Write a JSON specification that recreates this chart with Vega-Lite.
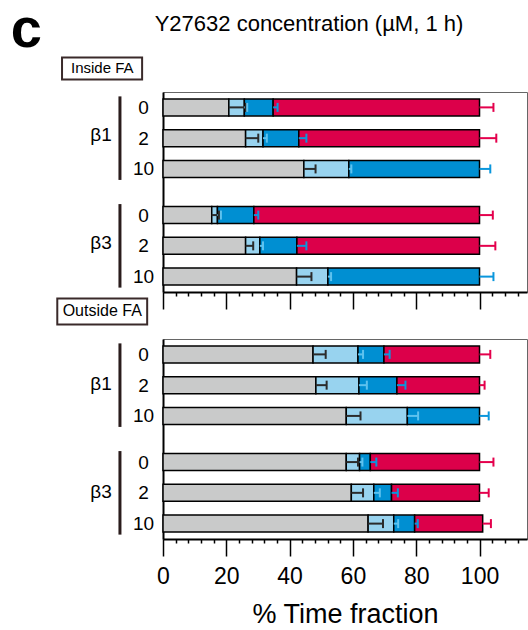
{
  "$schema": "https://vega.github.io/schema/vega-lite/v6.json",
  "padding": {"left": 10, "top": 1, "right": 0, "bottom": 5},
  "config": {
    "font": "Liberation Sans",
    "view": {"stroke": "#666666", "strokeWidth": 1},
    "axis": {"labelColor": "black", "titleColor": "black", "labelFont": "Liberation Sans", "titleFont": "Liberation Sans", "labelOverlap": false, "labelFlush": false}
  },
  "title": {"text": "c", "anchor": "start", "frame": "bounds", "fontSize": 56, "fontWeight": "bold", "dx": -45, "offset": -46, "color": "black"},
  "datasets": {
    "segs": [
      {"loc": "Inside FA", "key": "β1|0", "state": "A", "start": 0, "end": 20.8, "err": 26.2},
      {"loc": "Inside FA", "key": "β1|0", "state": "B", "start": 20.8, "end": 25.7, "err": 26.6},
      {"loc": "Inside FA", "key": "β1|0", "state": "C", "start": 25.7, "end": 34.8, "err": 36.2},
      {"loc": "Inside FA", "key": "β1|0", "state": "D", "start": 34.8, "end": 100, "err": 104.4},
      {"loc": "Inside FA", "key": "β1|2", "state": "A", "start": 0, "end": 26.1, "err": 30.1},
      {"loc": "Inside FA", "key": "β1|2", "state": "B", "start": 26.1, "end": 31.6, "err": 32.8},
      {"loc": "Inside FA", "key": "β1|2", "state": "C", "start": 31.6, "end": 42.9, "err": 45.3},
      {"loc": "Inside FA", "key": "β1|2", "state": "D", "start": 42.9, "end": 100, "err": 105.3},
      {"loc": "Inside FA", "key": "β1|10", "state": "A", "start": 0, "end": 44.5, "err": 48.2},
      {"loc": "Inside FA", "key": "β1|10", "state": "B", "start": 44.5, "end": 58.7, "err": 59.5},
      {"loc": "Inside FA", "key": "β1|10", "state": "C", "start": 58.7, "end": 100, "err": 103.4},
      {"loc": "Inside FA", "key": "β3|0", "state": "A", "start": 0, "end": 15.4, "err": 17.7},
      {"loc": "Inside FA", "key": "β3|0", "state": "B", "start": 15.4, "end": 17.2, "err": 18.3},
      {"loc": "Inside FA", "key": "β3|0", "state": "C", "start": 17.2, "end": 28.7, "err": 30.1},
      {"loc": "Inside FA", "key": "β3|0", "state": "D", "start": 28.7, "end": 100, "err": 104.2},
      {"loc": "Inside FA", "key": "β3|2", "state": "A", "start": 0, "end": 26.1, "err": 28.5},
      {"loc": "Inside FA", "key": "β3|2", "state": "B", "start": 26.1, "end": 30.6, "err": 31.6},
      {"loc": "Inside FA", "key": "β3|2", "state": "C", "start": 30.6, "end": 42.3, "err": 45.3},
      {"loc": "Inside FA", "key": "β3|2", "state": "D", "start": 42.3, "end": 100, "err": 105.0},
      {"loc": "Inside FA", "key": "β3|10", "state": "A", "start": 0, "end": 42.2, "err": 46.9},
      {"loc": "Inside FA", "key": "β3|10", "state": "B", "start": 42.2, "end": 52.1, "err": 53.1},
      {"loc": "Inside FA", "key": "β3|10", "state": "C", "start": 52.1, "end": 100, "err": 104.4},
      {"loc": "Outside FA", "key": "β1|0", "state": "A", "start": 0, "end": 47.4, "err": 51.4},
      {"loc": "Outside FA", "key": "β1|0", "state": "B", "start": 47.4, "end": 61.6, "err": 63.2},
      {"loc": "Outside FA", "key": "β1|0", "state": "C", "start": 61.6, "end": 69.8, "err": 71.6},
      {"loc": "Outside FA", "key": "β1|0", "state": "D", "start": 69.8, "end": 100, "err": 103.4},
      {"loc": "Outside FA", "key": "β1|2", "state": "A", "start": 0, "end": 48.3, "err": 51.7},
      {"loc": "Outside FA", "key": "β1|2", "state": "B", "start": 48.3, "end": 61.9, "err": 64.4},
      {"loc": "Outside FA", "key": "β1|2", "state": "C", "start": 61.9, "end": 73.9, "err": 76.6},
      {"loc": "Outside FA", "key": "β1|2", "state": "D", "start": 73.9, "end": 100, "err": 101.6},
      {"loc": "Outside FA", "key": "β1|10", "state": "A", "start": 0, "end": 57.9, "err": 62.4},
      {"loc": "Outside FA", "key": "β1|10", "state": "B", "start": 57.9, "end": 77.2, "err": 80.6},
      {"loc": "Outside FA", "key": "β1|10", "state": "C", "start": 77.2, "end": 100, "err": 102.9},
      {"loc": "Outside FA", "key": "β3|0", "state": "A", "start": 0, "end": 57.9, "err": 61.6},
      {"loc": "Outside FA", "key": "β3|0", "state": "B", "start": 57.9, "end": 62.1, "err": 63.0},
      {"loc": "Outside FA", "key": "β3|0", "state": "C", "start": 62.1, "end": 65.5, "err": 67.4},
      {"loc": "Outside FA", "key": "β3|0", "state": "D", "start": 65.5, "end": 100, "err": 104.4},
      {"loc": "Outside FA", "key": "β3|2", "state": "A", "start": 0, "end": 59.5, "err": 63.2},
      {"loc": "Outside FA", "key": "β3|2", "state": "B", "start": 59.5, "end": 66.6, "err": 68.5},
      {"loc": "Outside FA", "key": "β3|2", "state": "C", "start": 66.6, "end": 72.2, "err": 74.2},
      {"loc": "Outside FA", "key": "β3|2", "state": "D", "start": 72.2, "end": 100, "err": 102.9},
      {"loc": "Outside FA", "key": "β3|10", "state": "A", "start": 0, "end": 64.8, "err": 69.5},
      {"loc": "Outside FA", "key": "β3|10", "state": "B", "start": 64.8, "end": 72.9, "err": 74.3},
      {"loc": "Outside FA", "key": "β3|10", "state": "C", "start": 72.9, "end": 79.5, "err": 80.5},
      {"loc": "Outside FA", "key": "β3|10", "state": "D", "start": 79.5, "end": 101, "err": 103.6}
    ],
    "groups": [
      {"iso": "β1", "first": "β1|0", "mid": "β1|2", "last": "β1|10"},
      {"iso": "β3", "first": "β3|0", "mid": "β3|2", "last": "β3|10"}
    ]
  },
  "bounds": "flush",
  "spacing": 47,
  "vconcat": [
    {
      "width": 364,
      "height": 200,
      "title": {"text": "Y27632 concentration (µM, 1 h)", "anchor": "middle", "frame": "group", "dx": -36, "fontSize": 22, "fontWeight": "normal", "color": "black", "offset": 20},
      "layer": [
        {
          "data": {"name": "segs"},
          "transform": [{"filter": "datum.loc === 'Inside FA'"}],
          "mark": {"type": "bar", "size": 17, "stroke": "black", "strokeWidth": 1.5},
          "encoding": {
            "x": {"field": "start", "type": "quantitative", "scale": {"domain": [0, 115], "nice": false, "zero": false},
              "axis": {"values": [0,4,8,12,16,20,24,28,32,36,40,44,48,52,56,60,64,68,72,76,80,84,88,92,96,100,104,108,112], "tickCount": 40, "labels": false, "title": null, "grid": false, "domainColor": "black", "domainWidth": 2, "tickColor": "black", "tickWidth": 1.5,
                "tickSize": {"condition": {"test": "datum.value % 20 === 0", "value": 17}, "value": 4}}},
            "x2": {"field": "end"},
            "y": {"field": "key", "type": "ordinal",
              "scale": {"type": "point", "padding": 1.5, "domain": ["β1|0","g1","β1|2","g2","β1|10","g3","g4","β3|0","g5","β3|2","g6","β3|10"]},
              "axis": {"title": null, "ticks": false, "domainColor": "black", "domainWidth": 2, "labelFontSize": 19, "labelAlign": "center", "labelPadding": 20, "labelExpr": "indexof(datum.value, '|') >= 0 ? split(datum.value, '|')[1] : ''"}},
            "fill": {"field": "state", "type": "nominal", "legend": null,
              "scale": {"domain": ["A","B","C","D"], "range": ["#c9caca", "#98d3ef", "#008fd2", "#dc004a"]}}
          }
        },
        {
          "data": {"name": "segs"},
          "transform": [{"filter": "datum.loc === 'Inside FA'"}],
          "mark": {"type": "rule", "strokeWidth": 2},
          "encoding": {
            "x": {"field": "end", "type": "quantitative"},
            "x2": {"field": "err"},
            "y": {"field": "key", "type": "ordinal"},
            "stroke": {"field": "state", "type": "nominal", "legend": null,
              "scale": {"domain": ["A","B","C","D"], "range": ["#2b2b2b", "#5ec2ee", "#0a96dc", "#e4004c"]}}
          }
        },
        {
          "data": {"name": "segs"},
          "transform": [{"filter": "datum.loc === 'Inside FA'"}],
          "mark": {"type": "rule", "strokeWidth": 2, "yOffset": -4.5, "y2Offset": 4.5},
          "encoding": {
            "x": {"field": "err", "type": "quantitative"},
            "y": {"field": "key", "type": "ordinal"},
            "y2": {"field": "key"},
            "stroke": {"field": "state", "type": "nominal", "legend": null}
          }
        },
        {
          "data": {"name": "groups"},
          "mark": {"type": "rule", "strokeWidth": 3, "color": "#2a1c1c", "yOffset": -11, "y2Offset": 11},
          "encoding": {
            "x": {"datum": -13.6, "type": "quantitative"},
            "y": {"field": "first", "type": "ordinal"},
            "y2": {"field": "last"}
          }
        },
        {
          "data": {"name": "groups"},
          "mark": {"type": "text", "fontSize": 19, "align": "right", "baseline": "middle", "yOffset": -3, "color": "black"},
          "encoding": {
            "x": {"datum": -16.2, "type": "quantitative"},
            "y": {"field": "mid", "type": "ordinal"},
            "text": {"field": "iso"}
          }
        },
        {
          "data": {"values": [{"label": "Inside FA"}]},
          "mark": {"type": "rect", "fill": "white", "stroke": "#3a2a2a", "strokeWidth": 2, "yOffset": -50, "y2Offset": -28},
          "encoding": {
            "x": {"datum": -31.9, "type": "quantitative"},
            "x2": {"datum": -6.6},
            "y": {"datum": "β1|0", "type": "ordinal"},
            "y2": {"datum": "β1|0"}
          }
        },
        {
          "data": {"values": [{"label": "Inside FA"}]},
          "mark": {"type": "text", "fontSize": 15, "align": "center", "baseline": "middle", "yOffset": -39, "color": "black"},
          "encoding": {
            "x": {"datum": -19.2, "type": "quantitative"},
            "y": {"datum": "β1|0", "type": "ordinal"},
            "text": {"field": "label"}
          }
        }
      ]
    },
    {
      "width": 364,
      "height": 200,
      "layer": [
        {
          "data": {"name": "segs"},
          "transform": [{"filter": "datum.loc === 'Outside FA'"}],
          "mark": {"type": "bar", "size": 17, "stroke": "black", "strokeWidth": 1.5},
          "encoding": {
            "x": {"field": "start", "type": "quantitative", "scale": {"domain": [0, 115], "nice": false, "zero": false},
              "axis": {"values": [0,4,8,12,16,20,24,28,32,36,40,44,48,52,56,60,64,68,72,76,80,84,88,92,96,100,104,108,112], "tickCount": 40, "labelExpr": "datum.value % 20 === 0 ? datum.label : ''", "labelFontSize": 23, "labelPadding": 9, "title": "% Time fraction", "titleFontSize": 27, "titleFontWeight": "normal", "titlePadding": 13, "grid": false, "domainColor": "black", "domainWidth": 2, "tickColor": "black", "tickWidth": 1.5,
                "tickSize": {"condition": {"test": "datum.value % 20 === 0", "value": 17}, "value": 4}}},
            "x2": {"field": "end"},
            "y": {"field": "key", "type": "ordinal",
              "scale": {"type": "point", "padding": 1.5, "domain": ["β1|0","g1","β1|2","g2","β1|10","g3","g4","β3|0","g5","β3|2","g6","β3|10"]},
              "axis": {"title": null, "ticks": false, "domainColor": "black", "domainWidth": 2, "labelFontSize": 19, "labelAlign": "center", "labelPadding": 20, "labelExpr": "indexof(datum.value, '|') >= 0 ? split(datum.value, '|')[1] : ''"}},
            "fill": {"field": "state", "type": "nominal", "legend": null,
              "scale": {"domain": ["A","B","C","D"], "range": ["#c9caca", "#98d3ef", "#008fd2", "#dc004a"]}}
          }
        },
        {
          "data": {"name": "segs"},
          "transform": [{"filter": "datum.loc === 'Outside FA'"}],
          "mark": {"type": "rule", "strokeWidth": 2},
          "encoding": {
            "x": {"field": "end", "type": "quantitative"},
            "x2": {"field": "err"},
            "y": {"field": "key", "type": "ordinal"},
            "stroke": {"field": "state", "type": "nominal", "legend": null,
              "scale": {"domain": ["A","B","C","D"], "range": ["#2b2b2b", "#5ec2ee", "#0a96dc", "#e4004c"]}}
          }
        },
        {
          "data": {"name": "segs"},
          "transform": [{"filter": "datum.loc === 'Outside FA'"}],
          "mark": {"type": "rule", "strokeWidth": 2, "yOffset": -4.5, "y2Offset": 4.5},
          "encoding": {
            "x": {"field": "err", "type": "quantitative"},
            "y": {"field": "key", "type": "ordinal"},
            "y2": {"field": "key"},
            "stroke": {"field": "state", "type": "nominal", "legend": null}
          }
        },
        {
          "data": {"name": "groups"},
          "mark": {"type": "rule", "strokeWidth": 3, "color": "#2a1c1c", "yOffset": -11, "y2Offset": 11},
          "encoding": {
            "x": {"datum": -13.6, "type": "quantitative"},
            "y": {"field": "first", "type": "ordinal"},
            "y2": {"field": "last"}
          }
        },
        {
          "data": {"name": "groups"},
          "mark": {"type": "text", "fontSize": 19, "align": "right", "baseline": "middle", "yOffset": -1, "color": "black"},
          "encoding": {
            "x": {"datum": -16.2, "type": "quantitative"},
            "y": {"field": "mid", "type": "ordinal"},
            "text": {"field": "iso"}
          }
        },
        {
          "data": {"values": [{"label": "Outside FA"}]},
          "mark": {"type": "rect", "fill": "white", "stroke": "#3a2a2a", "strokeWidth": 2, "yOffset": -56, "y2Offset": -30},
          "encoding": {
            "x": {"datum": -33.4, "type": "quantitative"},
            "x2": {"datum": -5.0},
            "y": {"datum": "β1|0", "type": "ordinal"},
            "y2": {"datum": "β1|0"}
          }
        },
        {
          "data": {"values": [{"label": "Outside FA"}]},
          "mark": {"type": "text", "fontSize": 16, "align": "center", "baseline": "middle", "yOffset": -43, "color": "black"},
          "encoding": {
            "x": {"datum": -19.2, "type": "quantitative"},
            "y": {"datum": "β1|0", "type": "ordinal"},
            "text": {"field": "label"}
          }
        }
      ]
    }
  ]
}
